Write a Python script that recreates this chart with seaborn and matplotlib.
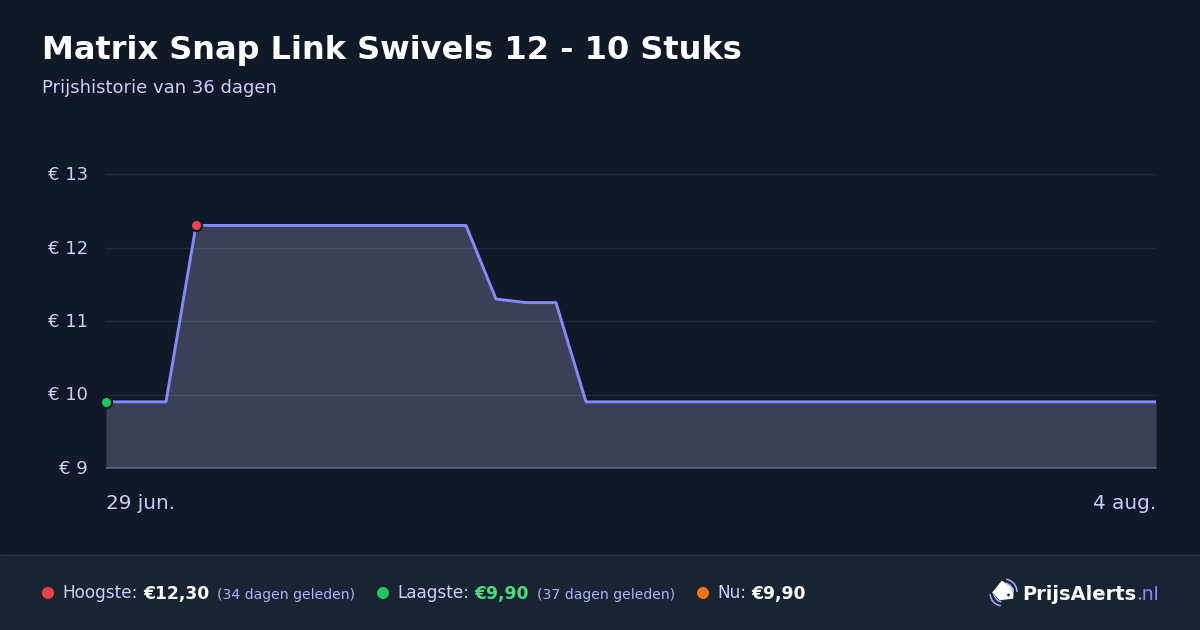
import matplotlib
matplotlib.use("Agg")
import matplotlib.pyplot as plt
import matplotlib.transforms as mtrans
import seaborn as sns
import pandas as pd
from matplotlib.patches import Arc, Circle, Polygon, Rectangle

# prijs per dag, 36 dagen
days = list(range(36))
prices = [9.9, 9.9, 9.9, 12.3, 12.3, 12.3, 12.3, 12.3, 12.3, 12.3, 12.3, 12.3,
          12.3, 11.3, 11.25, 11.25, 9.9, 9.9, 9.9, 9.9, 9.9, 9.9, 9.9, 9.9,
          9.9, 9.9, 9.9, 9.9, 9.9, 9.9, 9.9, 9.9, 9.9, 9.9, 9.9, 9.9]
y_ticks = [9, 10, 11, 12, 13]
y_labels = ["€ 9", "€ 10", "€ 11", "€ 12", "€ 13"]
x_ticks = [0, 35]
x_labels = ["29 jun.", "4 aug."]
high_day, high_price = 3, 12.3
low_day, low_price = 0, 9.9

BG = "#111827"
FOOTER = "#1a2332"
LINE = "#818cf8"
LABEL = "#c7d2fe"
FILL = "#3b3f57"

sns.set_theme(style="white")
plt.rcParams["font.family"] = ["DejaVu Sans"]

W, H = 1200, 630
fig = plt.figure(figsize=(12, 6.3), dpi=100, facecolor=BG)

# overlay in pixels for header/footer
bg = fig.add_axes([0, 0, 1, 1], zorder=0)
bg.set_xlim(0, W)
bg.set_ylim(H, 0)
bg.axis("off")
bg.add_patch(Rectangle((0, 554), W, 76, color=FOOTER, lw=0))
bg.plot([0, W], [554.5, 554.5], color="#2a3352", lw=0.9)

bg.text(42, 58.5, "Matrix Snap Link Swivels 12 - 10 Stuks", color="white",
        fontsize=23.0, fontweight="bold", va="baseline")
bg.text(42, 93, "Prijshistorie van 36 dagen", color=LABEL, fontsize=13, va="baseline")

# chart
ax = fig.add_axes([106 / W, 1 - 468 / H, 1050 / W, 294 / H], zorder=1)
ax.patch.set_alpha(0)
df = pd.DataFrame({"day": days, "price": prices})
ax.fill_between(days, prices, 9, color=FILL, lw=0, zorder=1)
sns.lineplot(data=df, x="day", y="price", ax=ax, color=LINE, lw=2.1, zorder=3)
ax.scatter([high_day], [high_price], s=64, color="#ef4444", edgecolor=BG, lw=1.5, zorder=4, clip_on=False)
ax.scatter([low_day], [low_price], s=64, color="#22c55e", edgecolor=BG, lw=1.5, zorder=4, clip_on=False)

ax.set_xlim(0, 35)
ax.set_ylim(9, 13)
ax.set_xlabel("")
ax.set_ylabel("")
ax.set_yticks(y_ticks)
ax.set_yticklabels(y_labels, color=LABEL, fontsize=13)
ax.set_xticks(x_ticks)
ax.set_xticklabels(x_labels, color=LABEL, fontsize=14.4)
ax.get_xticklabels()[0].set_ha("left")
ax.get_xticklabels()[1].set_ha("right")
ax.tick_params(axis="y", length=0, pad=13)
ax.tick_params(axis="x", length=0, pad=18.6)
# tick labels sit a pixel higher in the original
shift = mtrans.ScaledTranslation(0, 1 / 100, fig.dpi_scale_trans)
for lab in ax.get_yticklabels():
    lab.set_transform(lab.get_transform() + shift)
ax.grid(axis="y", color="white", alpha=0.08, lw=1)
ax.set_axisbelow("line")
ax.axhline(y_ticks[0], color="white", alpha=0.2, lw=1.4, clip_on=False, zorder=2)
sns.despine(ax=ax, left=True, bottom=True, top=True, right=True)

# footer legend
def dot(x, color):
    bg.add_patch(Circle((x, 593), 6, color=color, lw=0))

base = 598.5
dot(48, "#ef4444")
bg.text(62, base, "Hoogste:", color=LABEL, fontsize=12.2, va="baseline")
bg.text(143.5, base, "€12,30", color="white", fontsize=12.3, fontweight="bold", va="baseline")
bg.text(217, base, "(34 dagen geleden)", color="#a5b4fc", fontsize=10.1, va="baseline")
dot(383, "#22c55e")
bg.text(397, base, "Laagste:", color=LABEL, fontsize=12.2, va="baseline")
bg.text(474.5, base, "€9,90", color="#4ade80", fontsize=12.3, fontweight="bold", va="baseline")
bg.text(537, base, "(37 dagen geleden)", color="#a5b4fc", fontsize=10.1, va="baseline")
dot(703, "#f97316")
bg.text(717, base, "Nu:", color=LABEL, fontsize=12.2, va="baseline")
bg.text(751, base, "€9,90", color="white", fontsize=12.3, fontweight="bold", va="baseline")

# logo
bg.add_patch(Polygon([(993, 592.5), (1002, 581.5), (1013, 589), (1012.5, 598), (1000, 599.5)],
                     closed=True, fc="white", ec="white", lw=1, joinstyle="round"))
bg.add_patch(Circle((1008.5, 595), 1.4, color=FOOTER, lw=0))
for r in (9, 13):
    bg.add_patch(Arc((1004, 592), r * 2, r * 2, theta1=-80, theta2=0, color="#a5b4fc", lw=1.1))
    bg.add_patch(Arc((1003, 593), r * 2, r * 2, theta1=100, theta2=175, color="#a5b4fc", lw=1.1))
bg.text(1022, 600, "PrijsAlerts", color="white", fontsize=14, fontweight="bold", va="baseline")
bg.text(1136, 600, ".nl", color=LINE, fontsize=14.5, family="Inter", va="baseline")

fig.savefig("out.png", dpi=100, facecolor=BG)
